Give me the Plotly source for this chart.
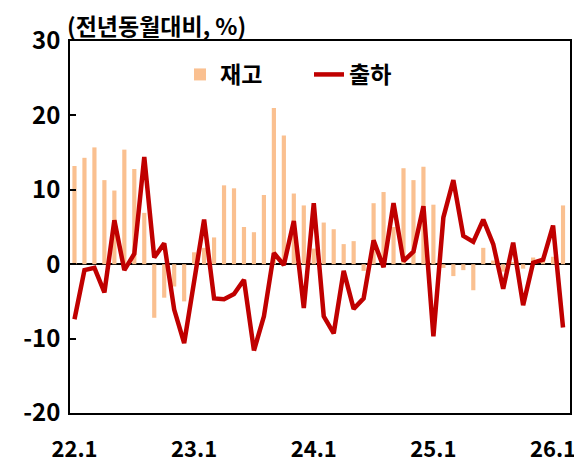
import plotly.graph_objects as go

# 2022.1 ~ 2026.2, 전년동월대비(%)
months = [f"{y}.{m}" for y in range(22, 27) for m in range(1, 13)][:50]

inventory = [13.2, 14.3, 15.7, 11.3, 9.9, 15.4, 12.8, 6.9, -7.2, -4.5,
             -3.0, -5.0, 1.6, 2.2, 3.6, 10.6, 10.2, 5.0, 4.3, 9.3,
             21.0, 17.3, 9.5, 7.9, 2.1, 5.6, 4.7, 2.7, 3.1, -0.9,
             8.2, 9.7, 5.0, 12.9, 11.3, 13.1, 8.0, -0.5, -1.6, -0.8,
             -3.5, 2.2, 0.5, -1.0, 0.3, -0.6, 0.9, 0.9, 1.0, 7.9]

shipment = [-7.4, -0.8, -0.5, -3.8, 5.9, -0.8, 1.4, 14.4, 0.9, 2.8,
            -6.1, -10.6, -2.3, 6.0, -4.6, -4.7, -4.0, -2.1, -11.6, -7.0,
            1.5, -0.1, 5.8, -5.9, 8.2, -7.0, -9.3, -0.9, -6.0, -4.6,
            3.2, -0.4, 8.2, 0.4, 1.7, 7.8, -9.7, 6.3, 11.3, 3.8,
            3.0, 6.0, 2.7, -3.3, 2.9, -5.5, 0.2, 0.6, 5.2, -8.5]

tick_labels = ["22.1", "23.1", "24.1", "25.1", "26.1"]
y_ticks = [-20, -10, 0, 10, 20, 30]
y_tick_text = ["-20", "-10", "0", "10", "20", "30"]

FONT = "Noto Sans CJK KR"

fig = go.Figure()
fig.add_trace(go.Bar(
    x=months, y=inventory, name="재고",
    marker=dict(color="#FAC090", line=dict(width=0)),
    width=0.42,
))
fig.add_trace(go.Scatter(
    x=months, y=shipment, name="출하", mode="lines",
    line=dict(color="#C00000", width=4.5),
))

# 페이지 기본 여백(8px)만큼 작게 잡음
fig.update_layout(
    width=574, height=459,
    margin=dict(l=62, r=12, t=33, b=54),
    plot_bgcolor="white", paper_bgcolor="white",
    font=dict(family=FONT, size=24, color="black", weight="bold"),
    showlegend=True,
    legend=dict(
        orientation="h", x=0.478, y=0.91, xanchor="center", yanchor="middle",
        font=dict(size=23, family=FONT, weight="bold"),
        bgcolor="rgba(0,0,0,0)", itemwidth=30, tracegroupgap=0,
        entrywidth=84, entrywidthmode="pixels",
    ),
    xaxis=dict(
        type="category", automargin=False,
        range=[-0.45, 49.7],
        tickmode="array", tickvals=[months[i] for i in (0, 12, 24, 36, 48)],
        ticktext=tick_labels,
        ticks="", showgrid=False, zeroline=False,
        showline=True, linecolor="black", linewidth=1.5, mirror=True,
        ticklabelstandoff=16,
        tickfont=dict(size=22, family=FONT, weight="bold"),
    ),
    yaxis=dict(
        range=[-20, 30], tickvals=y_ticks, ticktext=y_tick_text, automargin=False,
        ticks="inside", ticklen=6, tickcolor="black", tickwidth=1.5,
        showgrid=False, zeroline=True, zerolinecolor="black", zerolinewidth=1.5,
        showline=True, linecolor="black", linewidth=1.5, mirror=True,
        ticklabelstandoff=3,
        tickfont=dict(size=24, family=FONT, weight="bold"),
    ),
    bargap=0.5,
    annotations=[dict(
        text="(전년동월대비, %)", xref="paper", yref="paper",
        x=-0.01, y=1.043, xanchor="left", yanchor="middle",
        showarrow=False, font=dict(size=23, family=FONT, weight="bold"),
    )],
)

fig.write_html("out.html")
